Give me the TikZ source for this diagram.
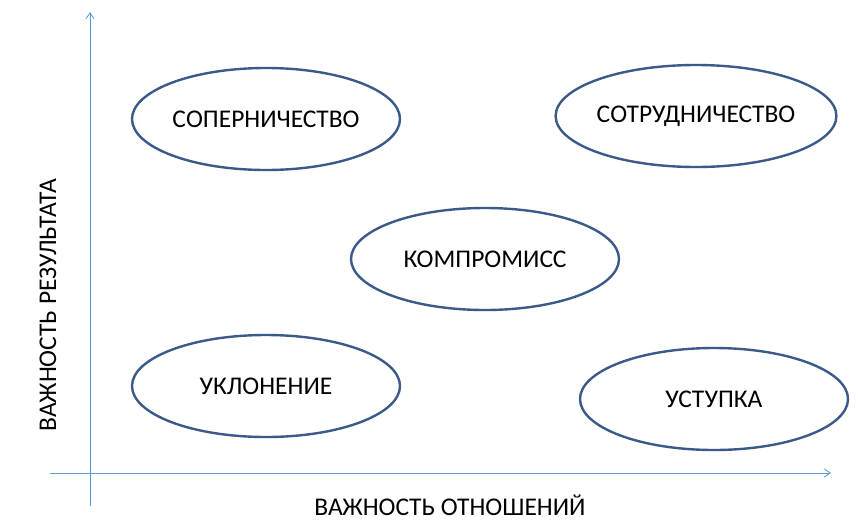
\documentclass[tikz,border=0pt]{standalone}
\usepackage{fontspec}
\setmainfont{Carlito}
\usetikzlibrary{arrows.meta,shapes.geometric}
\definecolor{ell}{HTML}{3B5A8A}
\definecolor{axis}{HTML}{5B9BD5}
\tikzset{
  oval/.style={draw=ell, line width=2.4pt, ellipse, minimum width=268pt, minimum height=102pt, inner sep=0pt, font=\fontsize{25.5}{28}\selectfont},
  ax/.style={draw=axis, line width=0.8pt, -{Straight Barb[length=6pt,width=8pt]}},
  lab/.style={font=\fontsize{25.5}{28}\selectfont}
}
\begin{document}
\begin{tikzpicture}[x=1pt,y=-1pt]
\useasboundingbox (0,0) rectangle (858,522);
\coordinate (vs) at (90,506);
\coordinate (ve) at (90,12);
\coordinate (hs) at (50,473);
\coordinate (he) at (831,473);
\draw[ax] (vs) -- (ve);
\draw[ax] (hs) -- (he);
\node[oval] (a) at (266,119) {СОПЕРНИЧЕСТВО};
\node[oval] (b) at (696,116) {СОТРУДНИЧЕСТВО};
\node[oval] (c) at (485,259) {КОМПРОМИСС};
\node[oval] (d) at (266,386) {УКЛОНЕНИЕ};
\node[oval] (e) at (714,399) {УСТУПКА};
\node[lab] (x) at (450,505) {ВАЖНОСТЬ ОТНОШЕНИЙ};
\node[lab, rotate=90] (y) at (48,305) {ВАЖНОСТЬ РЕЗУЛЬТАТА};
\end{tikzpicture}
\end{document}
